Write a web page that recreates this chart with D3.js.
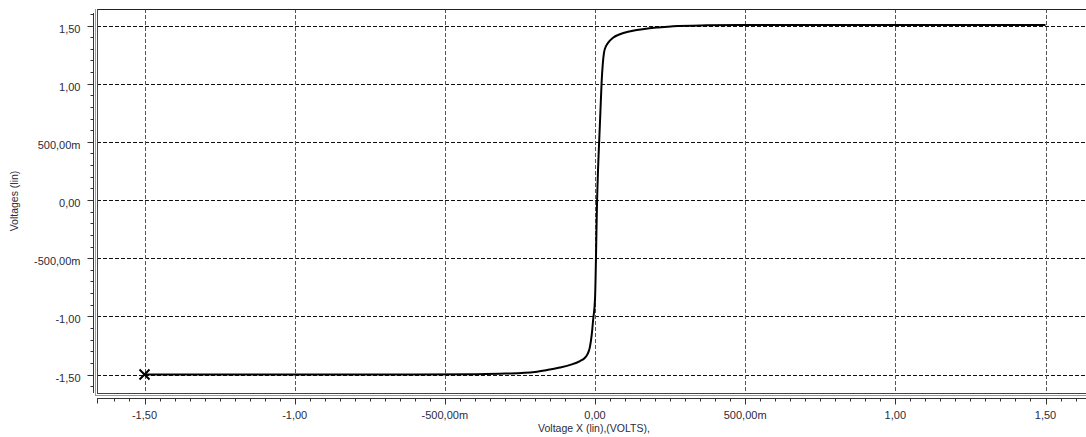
<!DOCTYPE html>
<html>
<head>
<meta charset="utf-8">
<script src="https://cdn.jsdelivr.net/npm/d3@7"></script>
<style>
  body { margin: 0; background: #fff; }
  svg { display: block; }
  text { font-family: "Liberation Sans", Arial, sans-serif; fill: #2b2b3a; }
</style>
</head>
<body>
<div id="chart"></div>
<script>
// transfer curve (volts)
const xValues = [-1.5, -1.0, -0.6, -0.4, -0.3, -0.2, -0.16, -0.117, -0.08, -0.05, -0.035, -0.025, -0.017, -0.011, -0.006, 0.0, 0.007, 0.017, 0.022, 0.03, 0.037, 0.044, 0.06, 0.083, 0.11, 0.139, 0.17, 0.206, 0.26, 0.372, 0.483, 1.0, 1.5];
const yValues = [-1.5, -1.5, -1.5, -1.497, -1.492, -1.478, -1.462, -1.44, -1.415, -1.384, -1.36, -1.325, -1.265, -1.16, -1.026, -0.854, 0.0, 0.694, 1.01, 1.267, 1.325, 1.353, 1.395, 1.425, 1.447, 1.462, 1.473, 1.482, 1.494, 1.502, 1.505, 1.505, 1.505];
const majorTicks = [-1.5, -1.0, -0.5, 0, 0.5, 1.0, 1.5];
const xLabel = "Voltage X (lin),(VOLTS),";
const yLabel = "Voltages (lin)";

const width = 1086;
const height = 437;

const svg = d3.select("#chart")
    .append("svg")
    .attr("width", width)
    .attr("height", height);

const x = d3.scaleLinear().domain([-1.5, 1.5]).range([144.5, 1045.5]);
const y = d3.scaleLinear().domain([-1.5, 1.5]).range([374.5, 25.5]);

const plotLeft = 97, plotTop = 9, plotBottom = 393, plotRight = 1100;

// tick label like "500,00m"
function fmt(v) {
    if (Math.abs(v) < 1e-9) return "0,00";
    if (Math.abs(v) < 1) return (v * 1000).toFixed(2).replace(".", ",") + "m";
    return v.toFixed(2).replace(".", ",");
}

// grid
svg.append("g")
    .selectAll("line")
    .data(majorTicks)
    .enter()
    .append("line")
    .attr("x1", plotLeft).attr("x2", plotRight)
    .attr("y1", d => Math.round(y(d)) + 0.5)
    .attr("y2", d => Math.round(y(d)) + 0.5)
    .style("stroke", "#111")
    .style("stroke-dasharray", "4,2");

svg.append("g")
    .selectAll("line")
    .data(majorTicks)
    .enter()
    .append("line")
    .attr("y1", plotTop).attr("y2", plotBottom)
    .attr("x1", d => Math.round(x(d)) + 0.5)
    .attr("x2", d => Math.round(x(d)) + 0.5)
    .style("stroke", "#555")
    .style("stroke-dasharray", "4,2");

// plot frame (sunken look on left and bottom)
svg.append("line").attr("x1", plotLeft).attr("x2", plotRight)
    .attr("y1", plotTop + 0.5).attr("y2", plotTop + 0.5)
    .style("stroke", "#222");
svg.append("line").attr("x1", plotLeft - 1.5).attr("x2", plotLeft - 1.5)
    .attr("y1", plotTop).attr("y2", plotBottom + 3)
    .style("stroke", "#999");
svg.append("line").attr("x1", plotLeft + 0.5).attr("x2", plotLeft + 0.5)
    .attr("y1", plotTop).attr("y2", plotBottom)
    .style("stroke", "#444");
svg.append("line").attr("x1", plotLeft).attr("x2", plotRight)
    .attr("y1", plotBottom + 0.5).attr("y2", plotBottom + 0.5)
    .style("stroke", "#444");
svg.append("line").attr("x1", plotLeft - 2).attr("x2", plotRight)
    .attr("y1", plotBottom + 2.5).attr("y2", plotBottom + 2.5)
    .style("stroke", "#999");

// y axis
const yAxis = svg.append("g").attr("transform", "translate(93.5,0)");
yAxis.append("line").attr("y1", 13).attr("y2", plotBottom).style("stroke", "#333");
yAxis.selectAll(".minor")
    .data(d3.range(-16, 17).map(i => i / 10))
    .enter()
    .append("line")
    .attr("x1", d => majorTicks.some(m => Math.abs(m - d) < 1e-9) ? -6 : -3)
    .attr("x2", 0)
    .attr("y1", d => Math.round(y(d)) + 0.5)
    .attr("y2", d => Math.round(y(d)) + 0.5)
    .style("stroke", "#333");
yAxis.selectAll("text")
    .data(majorTicks)
    .enter()
    .append("text")
    .attr("x", -13)
    .attr("y", d => y(d) + 7)
    .attr("text-anchor", "end")
    .style("font-size", "11px")
    .text(fmt);

// x axis
const xAxis = svg.append("g").attr("transform", "translate(0,398.5)");
xAxis.append("line").attr("x1", plotLeft).attr("x2", plotRight).style("stroke", "#333");
xAxis.append("line").attr("x1", plotLeft + 0.5).attr("x2", plotLeft + 0.5)
    .attr("y1", 0).attr("y2", 5).style("stroke", "#333");
xAxis.selectAll(".minor")
    .data(d3.range(-32, 34).map(i => i / 20))
    .enter()
    .append("line")
    .attr("x1", d => Math.round(x(d)) + 0.5)
    .attr("x2", d => Math.round(x(d)) + 0.5)
    .attr("y1", 0)
    .attr("y2", d => majorTicks.some(m => Math.abs(m - d) < 1e-9) ? 6 : 3)
    .style("stroke", "#333");
xAxis.selectAll("text")
    .data(majorTicks)
    .enter()
    .append("text")
    .attr("x", d => x(d))
    .attr("y", 20)
    .attr("text-anchor", "middle")
    .style("font-size", "11px")
    .text(fmt);

// axis titles
svg.append("text")
    .attr("x", 594)
    .attr("y", 432)
    .attr("text-anchor", "middle")
    .style("font-size", "10.5px")
    .text(xLabel);

svg.append("text")
    .attr("transform", "translate(18,201) rotate(-90)")
    .attr("text-anchor", "middle")
    .style("font-size", "10.5px")
    .text(yLabel);

// curve
const points = xValues.map((v, i) => [v, yValues[i]]);
const line = d3.line()
    .x(d => x(d[0]))
    .y(d => y(d[1]))
    .curve(d3.curveMonotoneX);

svg.append("path")
    .datum(points)
    .attr("d", line)
    .style("fill", "none")
    .style("stroke", "#000")
    .style("stroke-width", 2);

// start marker
const mx = x(xValues[0]), my = y(yValues[0]);
svg.append("path")
    .attr("d", `M${mx - 5},${my - 5}L${mx + 5},${my + 5}M${mx - 5},${my + 5}L${mx + 5},${my - 5}`)
    .style("stroke", "#000")
    .style("stroke-width", 2);
</script>
</body>
</html>
